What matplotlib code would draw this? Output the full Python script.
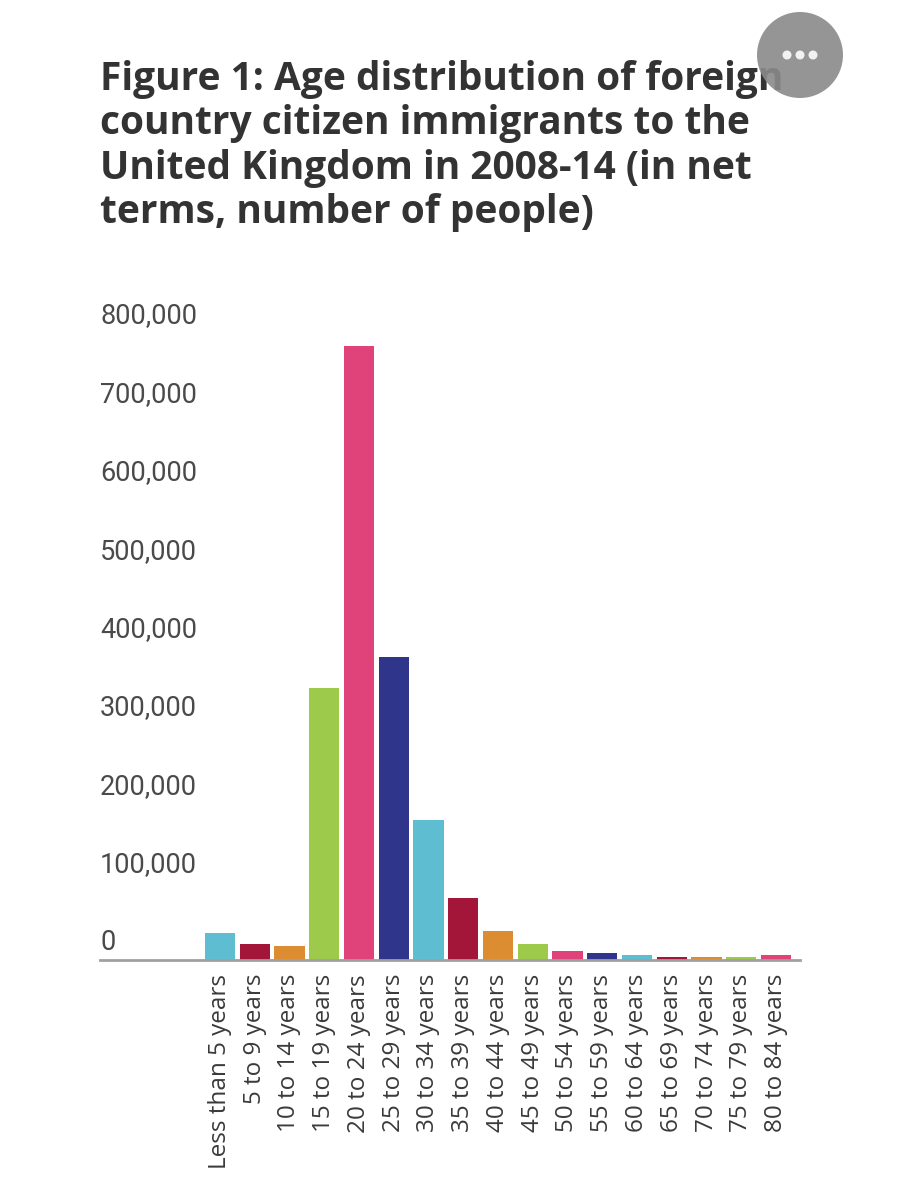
import matplotlib
matplotlib.use("Agg")
import matplotlib.pyplot as plt
from matplotlib.patches import Circle
from matplotlib.transforms import offset_copy, blended_transform_factory

# ---- data ----
age_groups = ["Less than 5 years", "5 to 9 years", "10 to 14 years", "15 to 19 years",
              "20 to 24 years", "25 to 29 years", "30 to 34 years", "35 to 39 years",
              "40 to 44 years", "45 to 49 years", "50 to 54 years", "55 to 59 years",
              "60 to 64 years", "65 to 69 years", "70 to 74 years", "75 to 79 years",
              "80 to 84 years"]
net_people = [34000, 20000, 18000, 347000, 783000, 386000, 179000, 79000, 37000,
              20500, 12000, 9300, 6400, 3800, 4000, 3800, 6800]
y_ticks = [0, 100000, 200000, 300000, 400000, 500000, 600000, 700000, 800000]
title = ("Figure 1: Age distribution of foreign\ncountry citizen immigrants to the\n"
         "United Kingdom in 2008-14 (in net\nterms, number of people)")

PALETTE = ["#5fbdd1", "#a3163a", "#dc8d31", "#9dca4a", "#e0427a", "#2f358b"]
INK = "#333333"
MUTED = "#4a4a4a"

W, H = 900, 1200
fig = plt.figure(figsize=(W / 100, H / 100), dpi=100)
fig.patch.set_facecolor("white")

# axes: baseline at y=960px, spans x 100..800px
ax = fig.add_axes([100 / W, (H - 960) / H, 700 / W, 627 / H])
ax.set_facecolor("white")
xs = list(range(len(age_groups)))
colors = [PALETTE[i % len(PALETTE)] for i in xs]
ax.bar(xs, net_people, width=0.87, color=colors, zorder=2)
ax.set_xlim(-3.45, 16.69)
ax.set_ylim(0, 800000)

for s in ("top", "right", "left"):
    ax.spines[s].set_visible(False)
ax.spines["bottom"].set_color("#a0a0a0")
ax.spines["bottom"].set_linewidth(2)

ax.set_yticks([])
ax.set_xticks(xs)
ax.set_xticklabels(age_groups, rotation=90, fontsize=17.5, color="#3a3a3a",
                   family="Open Sans")
ax.tick_params(axis="x", length=0, pad=10)

# y labels sit above their value, left-aligned at the axis start
trans = blended_transform_factory(ax.transAxes, ax.transData)
trans = offset_copy(trans, fig=fig, y=17, units="dots")
for v in y_ticks:
    ax.text(0, v, f"{v:,}", transform=trans, ha="left", va="center",
            fontsize=19.5, color=MUTED, family="Roboto")

# title
fig.text(100 / W, 1 - 60 / H, title, ha="left", va="top", fontsize=28,
         fontweight="bold", color=INK, family="Open Sans", linespacing=1.18)

# overlay menu button (top right)
btn = Circle((800, H - 55), 43, transform=None, facecolor="#8a8a8a",
             edgecolor="none", alpha=0.9, zorder=10)
fig.patches.append(btn)
for dx in (-13, 0, 13):
    fig.patches.append(Circle((800 + dx, H - 55), 4.5, transform=None,
                              facecolor="#f2f2f2", edgecolor="none", zorder=11))

fig.savefig("out.png", dpi=100, facecolor="white")
plt.close(fig)
